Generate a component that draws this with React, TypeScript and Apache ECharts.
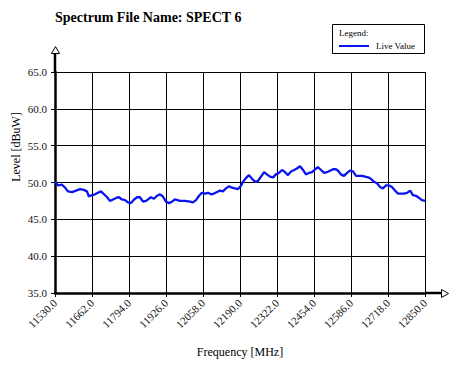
import React, { useEffect, useRef } from "react";
import * as echarts from "echarts";

const TITLE = "Spectrum File Name: SPECT 6";
const X_NAME = "Frequency [MHz]";
const Y_NAME = "Level [dBuW]";
const SERIES_NAME = "Live Value";
const FREQ_START = 11530;
const FREQ_END = 12850;
const FREQ_STEP = 132;
const LEVEL_MIN = 35;
const LEVEL_MAX = 65;
const LEVEL_STEP = 5;

const freqs = [
  11530, 11541, 11555, 11566, 11576, 11591, 11605, 11619, 11633, 11644, 11651,
  11662, 11673, 11683, 11694, 11705, 11716, 11726, 11737, 11748, 11758, 11769,
  11780, 11790, 11801, 11812, 11823, 11833, 11844, 11855, 11862, 11872, 11883,
  11894, 11905, 11915, 11926, 11937, 11947, 11958, 11976, 11994, 12012, 12022,
  12033, 12044, 12054, 12065, 12076, 12087, 12097, 12108, 12119, 12129, 12140,
  12151, 12161, 12172, 12183, 12194, 12201, 12211, 12222, 12233, 12244, 12254,
  12265, 12276, 12286, 12297, 12308, 12318, 12329, 12340, 12351, 12361, 12372,
  12383, 12393, 12404, 12415, 12425, 12436, 12447, 12458, 12468, 12479, 12490,
  12500, 12511, 12522, 12532, 12540, 12550, 12561, 12572, 12582, 12593, 12604,
  12615, 12625, 12636, 12647, 12657, 12668, 12679, 12689, 12700, 12711, 12722,
  12732, 12743, 12754, 12764, 12775, 12786, 12797, 12807, 12818, 12829, 12839,
  12850,
];

const levels = [
  50.1, 49.6, 49.7, 49.3, 48.8, 48.7, 48.9, 49.1, 49.0, 48.8, 48.1,
  48.3, 48.4, 48.6, 48.8, 48.4, 48.0, 47.5, 47.7, 47.9, 48.0, 47.7,
  47.6, 47.3, 47.2, 47.7, 48.0, 48.0, 47.4, 47.5, 47.7, 48.0, 47.8,
  48.2, 48.4, 48.1, 47.4, 47.2, 47.4, 47.7, 47.5, 47.5, 47.4, 47.3,
  47.6, 48.2, 48.6, 48.5, 48.6, 48.4, 48.5, 48.7, 48.9, 48.8, 49.2,
  49.5, 49.3, 49.2, 49.1, 49.6, 50.1, 50.6, 51.0, 50.5, 50.1, 50.2,
  50.8, 51.4, 51.1, 50.8, 50.7, 51.1, 51.3, 51.7, 51.4, 51.0, 51.5,
  51.7, 51.9, 52.2, 51.7, 51.1, 51.3, 51.4, 51.8, 52.1, 51.7, 51.3,
  51.4, 51.6, 51.8, 51.8, 51.6, 51.1, 50.9, 51.3, 51.6, 51.5, 50.9,
  50.9, 50.9, 50.8, 50.7, 50.5, 50.1, 49.9, 49.4, 49.2, 49.6, 49.6,
  49.4, 48.9, 48.5, 48.5, 48.5, 48.6, 48.9, 48.3, 48.2, 47.9, 47.6,
  47.5,
];

const FONT = "'Liberation Serif', 'Times New Roman', serif";

export default function App() {
  const ref = useRef<HTMLDivElement>(null);
  useEffect(() => {
    if (!ref.current) return;
    const chart = echarts.init(ref.current, null, { renderer: "svg" });
    const data = freqs.map((f, i) => [f - FREQ_START, levels[i]]);
    chart.setOption({
      animation: false,
      backgroundColor: "#ffffff",
      textStyle: { fontFamily: FONT },
      grid: { left: 55, right: 38, top: 72, bottom: 78, containLabel: false },
      xAxis: {
        type: "value",
        min: 0,
        max: FREQ_END - FREQ_START,
        interval: FREQ_STEP,
        name: X_NAME,
        nameLocation: "middle",
        nameGap: 53,
        nameTextStyle: { color: "#000", fontSize: 12, fontFamily: FONT },
        axisLine: { show: true, lineStyle: { color: "#000", width: 2.5 } },
        axisTick: { show: true, length: 4, lineStyle: { color: "#000", width: 1 } },
        axisLabel: {
          rotate: 45,
          margin: 8,
          color: "#111",
          fontSize: 11,
          fontFamily: FONT,
          formatter: (v: number) => (v + FREQ_START).toFixed(1),
        },
        splitLine: { show: true, lineStyle: { color: "#000", width: 1 } },
      },
      yAxis: {
        type: "value",
        min: LEVEL_MIN,
        max: LEVEL_MAX,
        interval: LEVEL_STEP,
        axisLine: { show: true, lineStyle: { color: "#000", width: 2.5 } },
        axisTick: { show: true, length: 4, lineStyle: { color: "#000", width: 1 } },
        axisLabel: {
          margin: 8,
          color: "#111",
          fontSize: 11,
          fontFamily: FONT,
          formatter: (v: number) => v.toFixed(1),
        },
        splitLine: { show: true, lineStyle: { color: "#000", width: 1 } },
      },
      series: [
        {
          name: SERIES_NAME,
          type: "line",
          data,
          showSymbol: false,
          symbol: "none",
          lineStyle: { color: "#0a14f0", width: 2.3 },
          z: 5,
        },
      ],
      graphic: [
        {
          type: "text",
          left: 55,
          top: 10,
          style: {
            text: TITLE,
            fill: "#000",
            font: `bold 14px ${FONT}`,
          },
        },
        {
          type: "text",
          x: 16,
          y: 147,
          rotation: Math.PI / 2,
          style: {
            text: Y_NAME,
            fill: "#000",
            font: `12px ${FONT}`,
            align: "center",
            verticalAlign: "middle",
          },
        },
        {
          type: "line",
          shape: { x1: 55, y1: 72, x2: 55, y2: 53 },
          style: { stroke: "#000", lineWidth: 2.5 },
        },
        {
          type: "polygon",
          shape: { points: [[55.5, 46.5], [51.5, 53.5], [59.5, 53.5]] },
          style: { fill: "#fff", stroke: "#000", lineWidth: 1 },
        },
        {
          type: "line",
          shape: { x1: 425, y1: 293, x2: 442, y2: 293 },
          style: { stroke: "#000", lineWidth: 2.5 },
        },
        {
          type: "polygon",
          shape: { points: [[448.5, 293.5], [441.5, 289.5], [441.5, 297.5]] },
          style: { fill: "#fff", stroke: "#000", lineWidth: 1 },
        },
        {
          type: "rect",
          shape: { x: 332.5, y: 24.5, width: 92, height: 29 },
          style: { fill: "#fff", stroke: "#000", lineWidth: 1 },
        },
        {
          type: "text",
          x: 339,
          y: 33,
          style: {
            text: "Legend:",
            fill: "#000",
            font: `9px ${FONT}`,
            verticalAlign: "middle",
          },
        },
        {
          type: "line",
          shape: { x1: 339, y1: 46, x2: 369, y2: 46 },
          style: { stroke: "#0a14f0", lineWidth: 2 },
        },
        {
          type: "text",
          x: 376,
          y: 45.5,
          style: {
            text: SERIES_NAME,
            fill: "#000",
            font: `9px ${FONT}`,
            verticalAlign: "middle",
          },
        },
      ],
    });
    return () => chart.dispose();
  }, []);
  return <div ref={ref} style={{ width: 463, height: 371, position: "absolute", left: 0, top: 0 }} />;
}
